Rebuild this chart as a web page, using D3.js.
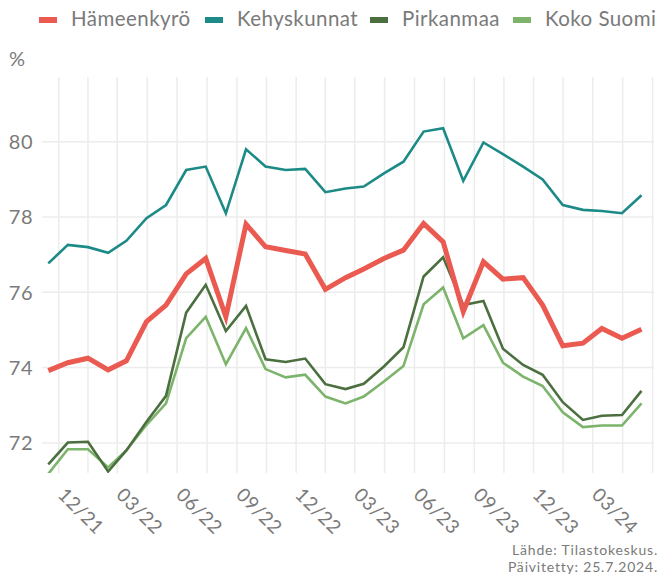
<!DOCTYPE html>
<html>
<head>
<meta charset="utf-8">
<script src="https://cdn.jsdelivr.net/npm/d3@7"></script>
<style>
  html, body { margin: 0; padding: 0; background: #fff; }
  svg { display: block; font-family: Lato, "Open Sans", sans-serif; }
</style>
</head>
<body>
<svg id="chart" width="661" height="576"></svg>
<script>
// ---- Data ----
const months = [
  "2021-11","2021-12","2022-01","2022-02","2022-03","2022-04","2022-05","2022-06","2022-07","2022-08","2022-09","2022-10",
  "2022-11","2022-12","2023-01","2023-02","2023-03","2023-04","2023-05","2023-06","2023-07","2023-08","2023-09","2023-10",
  "2023-11","2023-12","2024-01","2024-02","2024-03","2024-04","2024-05"
];
const seriesNames = ["Hämeenkyrö", "Kehyskunnat", "Pirkanmaa", "Koko Suomi"];
const hameenkyro = [73.92,74.13,74.25,73.94,74.18,75.22,75.66,76.49,76.90,75.35,77.81,
  77.21,77.11,77.02,76.08,76.39,76.62,76.90,77.12,77.83,77.34,
  75.49,76.81,76.35,76.39,75.66,74.58,74.65,75.04,74.78,75.02];
const kehyskunnat = [76.77,77.26,77.20,77.05,77.37,77.97,78.32,79.25,79.34,78.10,79.80,
  79.34,79.25,79.28,78.66,78.76,78.81,79.16,79.47,80.27,80.36,
  78.96,79.98,79.67,79.34,79.00,78.32,78.19,78.16,78.10,78.58];
const pirkanmaa = [71.43,72.01,72.03,71.24,71.80,72.56,73.25,75.46,76.20,74.97,75.64,
  74.22,74.15,74.24,73.56,73.43,73.57,74.03,74.54,76.42,76.93,
  75.66,75.77,74.50,74.07,73.81,73.08,72.61,72.72,72.74,73.38];
const kokoSuomi = [71.18,71.83,71.83,71.35,71.80,72.48,73.05,74.78,75.35,74.09,75.05,
  73.96,73.74,73.81,73.23,73.05,73.23,73.63,74.04,75.68,76.13,
  74.78,75.13,74.13,73.76,73.51,72.81,72.42,72.46,72.46,73.05];
const yTicks = [72, 74, 76, 78, 80];
const xTickFirst = "2021-12";
const xTickLast = "2024-03";
const colors = ["#ea5a50", "#1c8a86", "#4c6f3f", "#7bb46a"];
const widths = [5, 2.6, 2.6, 2.6];
const caption = ["Lähde: Tilastokeskus.", "Päivitetty: 25.7.2024."];

// ---- Layout ----
const svg = d3.select("#chart");
const panel = { left: 42, right: 654, top: 77, bottom: 473 };
const parseMonth = d3.utcParse("%Y-%m");
const mid = s => { const d = parseMonth(s); return new Date(Date.UTC(d.getUTCFullYear(), d.getUTCMonth(), 15)); };
const dates = months.map(mid);

const x = d3.scaleUtc().domain([dates[0], dates[dates.length - 1]]).range([48.3, 641.5]);
const y = d3.scaleLinear().domain([71.2, 81.72]).range([panel.bottom, panel.top]);

const gridColor = "#ececec";
const textColor = "#7a7a7a";

// grid
const g = svg.append("g");
const firstTick = parseMonth(xTickFirst);
const majors = d3.utcMonth.range(firstTick, d3.utcMonth.offset(parseMonth(xTickLast), 4), 3);
const minors = [];
for (let i = 0; i < majors.length - 1; i++) {
  minors.push(new Date((+majors[i] + +majors[i + 1]) / 2));
}
const vgrid = majors.concat(minors).filter(d => x(d) >= panel.left && x(d) <= panel.right);
g.selectAll("line.v").data(vgrid).join("line")
  .attr("x1", d => x(d)).attr("x2", d => x(d))
  .attr("y1", panel.top).attr("y2", panel.bottom)
  .attr("stroke", gridColor).attr("stroke-width", 1.5);
g.selectAll("line.h").data(yTicks).join("line")
  .attr("x1", panel.left).attr("x2", panel.right)
  .attr("y1", d => y(d)).attr("y2", d => y(d))
  .attr("stroke", gridColor).attr("stroke-width", 1.5);

// y axis labels
svg.append("g").selectAll("text").data(yTicks).join("text")
  .attr("x", 33).attr("y", d => y(d)).attr("dy", "0.36em")
  .attr("text-anchor", "end").attr("fill", textColor)
  .style("font-size", "20px").style("letter-spacing", "0.5px").text(d => d);
svg.append("text").attr("x", 9).attr("y", 66).attr("fill", textColor)
  .style("font-size", "20px").text("%");

// x axis labels
const fmt = d3.utcFormat("%m/%y");
const lastLabel = parseMonth(xTickLast);
const labelTicks = majors.filter(d => d <= lastLabel);
svg.append("g").selectAll("text").data(labelTicks).join("text")
  .attr("transform", d => `translate(${x(d) - 2},${496}) rotate(45)`)
  .attr("fill", textColor).style("font-size", "19px").style("letter-spacing", "0.6px")
  .text(d => fmt(d));

// lines
const defs = svg.append("defs");
defs.append("clipPath").attr("id", "clip").append("rect")
  .attr("x", panel.left).attr("y", panel.top - 5)
  .attr("width", panel.right - panel.left).attr("height", panel.bottom - panel.top + 5);
const allSeries = [hameenkyro, kehyskunnat, pirkanmaa, kokoSuomi];
const line = d3.line().x((d, i) => x(dates[i])).y(d => y(d));
const drawOrder = [3, 2, 1, 0];
svg.append("g").attr("clip-path", "url(#clip)").selectAll("path").data(drawOrder).join("path")
  .attr("d", k => line(allSeries[k]))
  .attr("fill", "none").attr("stroke", k => colors[k])
  .attr("stroke-width", k => widths[k]).attr("stroke-linejoin", "miter").attr("stroke-linecap", "butt");

// legend
const leg = svg.append("g");
const legendX = [39, 205, 370, 513];
seriesNames.forEach((name, i) => {
  const lx = legendX[i];
  leg.append("rect").attr("x", lx).attr("y", 17).attr("width", 18).attr("height", 6).attr("fill", colors[i]);
  leg.append("text").attr("x", lx + 32).attr("y", 26).attr("fill", textColor)
    .style("font-size", "20.5px").style("letter-spacing", "0.45px").text(name);
});

// caption
svg.append("g").selectAll("text").data(caption).join("text")
  .attr("x", 658).attr("y", (d, i) => 555 + i * 17)
  .attr("text-anchor", "end").attr("fill", textColor)
  .style("font-size", "14px").style("letter-spacing", "0.8px").text(d => d);
</script>
</body>
</html>
